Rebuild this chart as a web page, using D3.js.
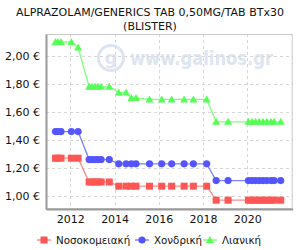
<!DOCTYPE html>
<html>
<head>
<meta charset="utf-8">
<script src="https://cdn.jsdelivr.net/npm/d3@7"></script>
<style>
  body { margin: 0; background: #fff; }
  svg { display: block; font-family: "DejaVu Sans", sans-serif; }
</style>
</head>
<body>
<div id="chart"></div>
<script>
const title = ["ALPRAZOLAM/GENERICS TAB 0,50MG/TAB BTx30", "(BLISTER)"];

const dates = [
  "2011-05-01", "2011-06-10", "2011-07-31", "2012-01-18", "2012-05-08",
  "2012-11-06", "2012-12-24", "2013-02-14", "2013-04-02", "2013-05-23",
  "2013-10-05", "2014-03-10", "2014-07-09", "2014-10-05", "2014-12-20",
  "2015-07-31", "2016-02-17", "2016-07-31", "2017-02-21", "2017-07-24",
  "2018-03-01", "2018-08-04", "2019-02-17", "2020-01-19", "2020-03-18",
  "2020-05-15", "2020-07-16", "2020-09-16", "2020-11-17", "2021-01-26",
  "2021-03-18", "2021-07-05"
];

const hospital = [
  1.27, 1.27, 1.27, 1.27, 1.27,
  1.10, 1.10, 1.10, 1.10, 1.10, 1.10,
  1.07, 1.07, 1.07, 1.07, 1.07, 1.07, 1.07, 1.07, 1.07, 1.07,
  0.97, 0.97, 0.97, 0.97, 0.97, 0.97, 0.97, 0.97, 0.97, 0.97, 0.97
];
const wholesale = [
  1.46, 1.46, 1.46, 1.46, 1.46,
  1.26, 1.26, 1.26, 1.26, 1.26, 1.26,
  1.23, 1.23, 1.23, 1.23, 1.23, 1.23, 1.23, 1.23, 1.23, 1.23,
  1.11, 1.11, 1.11, 1.11, 1.11, 1.11, 1.11, 1.11, 1.11, 1.11, 1.11
];
const retail = [
  2.10, 2.10, 2.10, 2.10, 2.06,
  1.78, 1.78, 1.78, 1.78, 1.78, 1.78,
  1.74, 1.74, 1.70, 1.70,
  1.69, 1.69, 1.69, 1.69, 1.69, 1.69,
  1.53, 1.53, 1.53, 1.53, 1.53, 1.53, 1.53, 1.53, 1.53, 1.53, 1.53
];

const yTicks = [1.0, 1.2, 1.4, 1.6, 1.8, 2.0];
const xTicks = [2012, 2014, 2016, 2018, 2020];

const series = [
  { name: "Νοσοκομειακή", values: hospital, color: "#ff5555", line: "#ff8a8a", shape: "square" },
  { name: "Χονδρική", values: wholesale, color: "#5555ff", line: "#7f7fff", shape: "circle" },
  { name: "Λιανική", values: retail, color: "#55ff55", line: "#7fff7f", shape: "triangle" }
];

const width = 300, height = 250;
const plot = { left: 46, right: 292.7, top: 34, bottom: 209 };

const parse = d3.timeParse("%Y-%m-%d");
const x = d3.scaleTime()
  .domain([new Date(2010, 10, 25), new Date(2022, 0, 19)])
  .range([plot.left, plot.right]);
const y = d3.scaleLinear()
  .domain([0.9071, 2.1571])
  .range([plot.bottom, plot.top]);

const svg = d3.select("#chart").append("svg")
  .attr("width", width)
  .attr("height", height);

// title
svg.append("g").selectAll("text")
  .data(title)
  .enter().append("text")
  .attr("x", 150)
  .attr("y", (d, i) => 16 + i * 14)
  .attr("text-anchor", "middle")
  .attr("font-size", 11)
  .attr("fill", "#111")
  .text(d => d);

// watermark
const wm = svg.append("g");
wm.append("circle")
  .attr("cx", 111).attr("cy", 58).attr("r", 12.5)
  .attr("fill", "none").attr("stroke", "#dde5f0").attr("stroke-width", 3);
wm.append("text")
  .attr("x", 111).attr("y", 64)
  .attr("text-anchor", "middle")
  .attr("font-size", 18).attr("font-weight", "bold")
  .attr("fill", "#dde5f0")
  .text("g");
wm.append("text")
  .attr("x", 130).attr("y", 65)
  .attr("font-size", 19).attr("font-weight", "bold")
  .attr("textLength", 143).attr("lengthAdjust", "spacingAndGlyphs")
  .attr("fill", "#dde5f0")
  .text("www.galinos.gr");

// grid
const grid = svg.append("g")
  .attr("stroke", "#d6d6d6")
  .attr("stroke-dasharray", "3,3");
grid.selectAll(".gy").data(yTicks).enter().append("line")
  .attr("x1", plot.left).attr("x2", plot.right)
  .attr("y1", d => Math.round(y(d)) + 0.5).attr("y2", d => Math.round(y(d)) + 0.5);
grid.selectAll(".gx").data(xTicks).enter().append("line")
  .attr("y1", plot.top).attr("y2", plot.bottom)
  .attr("x1", d => Math.round(x(new Date(d, 0, 1))) + 0.5)
  .attr("x2", d => Math.round(x(new Date(d, 0, 1))) + 0.5);

// frame
svg.append("rect")
  .attr("x", plot.left + 0.5).attr("y", plot.top + 0.5)
  .attr("width", plot.right - plot.left - 1).attr("height", plot.bottom - plot.top - 1)
  .attr("fill", "none").attr("stroke", "#c8c8c8");

// axes
const yAxis = svg.append("g")
  .attr("transform", `translate(${plot.left},0)`)
  .call(d3.axisLeft(y).tickValues(yTicks).tickSize(0).tickPadding(6)
    .tickFormat(d => d3.format(".2f")(d).replace(".", ",") + " €"));
const xAxis = svg.append("g")
  .attr("transform", `translate(0,${plot.bottom})`)
  .call(d3.axisBottom(x).tickValues(xTicks.map(d => new Date(d, 0, 1))).tickSize(0).tickPadding(6)
    .tickFormat(d3.timeFormat("%Y")));
[yAxis, xAxis].forEach(a => {
  a.select(".domain").attr("stroke", "#999").attr("stroke-width", 2);
  a.selectAll("text").attr("font-size", 11).attr("fill", "#111")
    .attr("font-family", "DejaVu Sans, sans-serif");
});

// markers
function marker(g, shape, color, cx, cy) {
  if (shape === "square") {
    g.append("rect").attr("x", cx - 3.5).attr("y", cy - 3.5)
      .attr("width", 7).attr("height", 7).attr("fill", color);
  } else if (shape === "circle") {
    g.append("circle").attr("cx", cx).attr("cy", cy).attr("r", 3.6).attr("fill", color);
  } else {
    g.append("path")
      .attr("d", `M${cx},${cy - 4}L${cx + 4},${cy + 3}L${cx - 4},${cy + 3}Z`)
      .attr("fill", color);
  }
}

const line = d3.line()
  .x(d => x(d.date))
  .y(d => y(d.value));

series.forEach(s => {
  const pts = dates.map((d, i) => ({ date: parse(d), value: s.values[i] }));
  const g = svg.append("g");
  g.append("path")
    .datum(pts)
    .attr("d", line)
    .attr("fill", "none")
    .attr("stroke", s.line)
    .attr("stroke-width", 1.3);
  pts.forEach(p => marker(g, s.shape, s.color, x(p.date), y(p.value)));
});

// legend
const legendX = [37, 135, 203];
const legend = svg.append("g");
series.forEach((s, i) => {
  const lx = legendX[i], ly = 240;
  legend.append("line")
    .attr("x1", lx).attr("x2", lx + 14)
    .attr("y1", ly).attr("y2", ly)
    .attr("stroke", s.line).attr("stroke-width", 1.5);
  marker(legend, s.shape, s.color, lx + 7, ly);
  legend.append("text")
    .attr("x", lx + 19).attr("y", ly + 4)
    .attr("font-size", 10.3).attr("fill", "#111")
    .text(s.name);
});
</script>
</body>
</html>
